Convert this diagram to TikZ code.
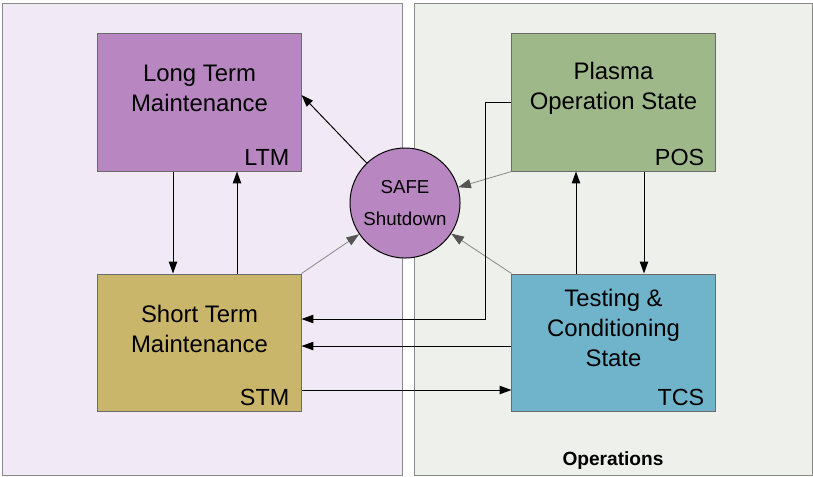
\documentclass[tikz,border=0pt]{standalone}
\usepackage{fontspec}
\setmainfont{Liberation Sans}
\usetikzlibrary{arrows.meta,positioning,calc}

\definecolor{maintbg}{HTML}{F1EAF6}
\definecolor{operbg}{HTML}{EEF0EC}
\definecolor{panelline}{HTML}{8A8A8A}
\definecolor{boxline}{HTML}{6A6A6A}
\definecolor{ltmfill}{HTML}{B887C1}
\definecolor{posfill}{HTML}{9FB88A}
\definecolor{stmfill}{HTML}{C9B66B}
\definecolor{tcsfill}{HTML}{70B4CC}
\definecolor{softarr}{HTML}{8C8C8C}
\definecolor{softhead}{HTML}{555555}

\begin{document}
\begin{tikzpicture}[x=0.025cm, y=-0.025cm,
    state/.style={draw=boxline, line width=0.7pt, minimum width=5.075cm, minimum height=3.425cm, inner sep=0pt},
    title/.style={align=center, inner sep=0pt, font=\fontsize{17}{21.3}\selectfont},
    tag/.style={anchor=base east, inner sep=0pt, font=\fontsize{16.6}{19}\selectfont},
    arr/.style={-{Triangle[length=8.5pt,width=6pt]}, line width=0.7pt},
    garr/.style={-{Triangle[length=9pt,width=6.5pt,color=softhead]}, draw=softarr, line width=0.6pt}
]
\useasboundingbox (0,0) rectangle (813,476);

% the two areas
\draw[draw=panelline, line width=0.7pt, fill=maintbg] (2,3) rectangle (402,475);
\draw[draw=panelline, line width=0.7pt, fill=operbg] (414,3) rectangle (812,475);
\node[anchor=base, inner sep=0pt, font=\fontsize{13.6}{15}\selectfont\bfseries] (oper) at (613,465) {Operations};

% states
\node[state, fill=ltmfill] (ltm) at (199.5,102.5) {};
\node[state, fill=posfill] (pos) at (613.5,102.5) {};
\node[state, fill=stmfill] (stm) at (199.5,342.5) {};
\node[state, fill=tcsfill] (tcs) at (613.5,342.5) {};

\node[title] (ltmt) at ([shift={(0,-14)}]ltm.center) {Long Term\\Maintenance};
\node[title] (post) at ([shift={(0,-14)}]pos.center) {Plasma\\Operation State};
\node[title] (stmt) at ([shift={(0,-14)}]stm.center) {Short Term\\Maintenance};
\node[title] (tcst) at ([shift={(0,-15)}]tcs.center) {Testing \&\\Conditioning\\State};

\node[tag] (ltmk) at ([shift={(-12,-6)}]ltm.south east) {LTM};
\node[tag] (posk) at ([shift={(-11,-6)}]pos.south east) {POS};
\node[tag] (stmk) at ([shift={(-12,-6)}]stm.south east) {STM};
\node[tag] (tcsk) at ([shift={(-11,-6)}]tcs.south east) {TCS};

\node[circle, draw=black, line width=0.7pt, fill=ltmfill, minimum size=2.75cm, inner sep=0pt, align=center,
      font=\fontsize{13.3}{22.8}\selectfont] (safe) at (405,203) {SAFE\\Shutdown};

% transitions
\draw[arr] (safe) -- ([shift={(0,-7.5)}]ltm.east);
\draw[arr] ([shift={(-26.5,0)}]ltm.south) -- ([shift={(-26.5,0)}]stm.north);
\draw[arr] ([shift={(37.5,0)}]stm.north) -- ([shift={(37.5,0)}]ltm.south);
\draw[arr] ([shift={(-37.5,0)}]tcs.north) -- ([shift={(-37.5,0)}]pos.south);
\draw[arr] ([shift={(30.5,0)}]pos.south) -- ([shift={(30.5,0)}]tcs.north);

\draw[garr] (stm.north east) -- (safe);
\draw[garr] (pos.south west) -- (safe);
\draw[garr] (tcs.north west) -- (safe);

\draw[arr] (pos.west) -- ++(-26,0) |- ([shift={(0,-23.5)}]stm.east);
\draw[arr] ([shift={(0,3.5)}]tcs.west) -- ([shift={(0,3.5)}]stm.east);
\draw[arr] ([shift={(0,47.5)}]stm.east) -- ([shift={(0,47.5)}]tcs.west);
\end{tikzpicture}
\end{document}
